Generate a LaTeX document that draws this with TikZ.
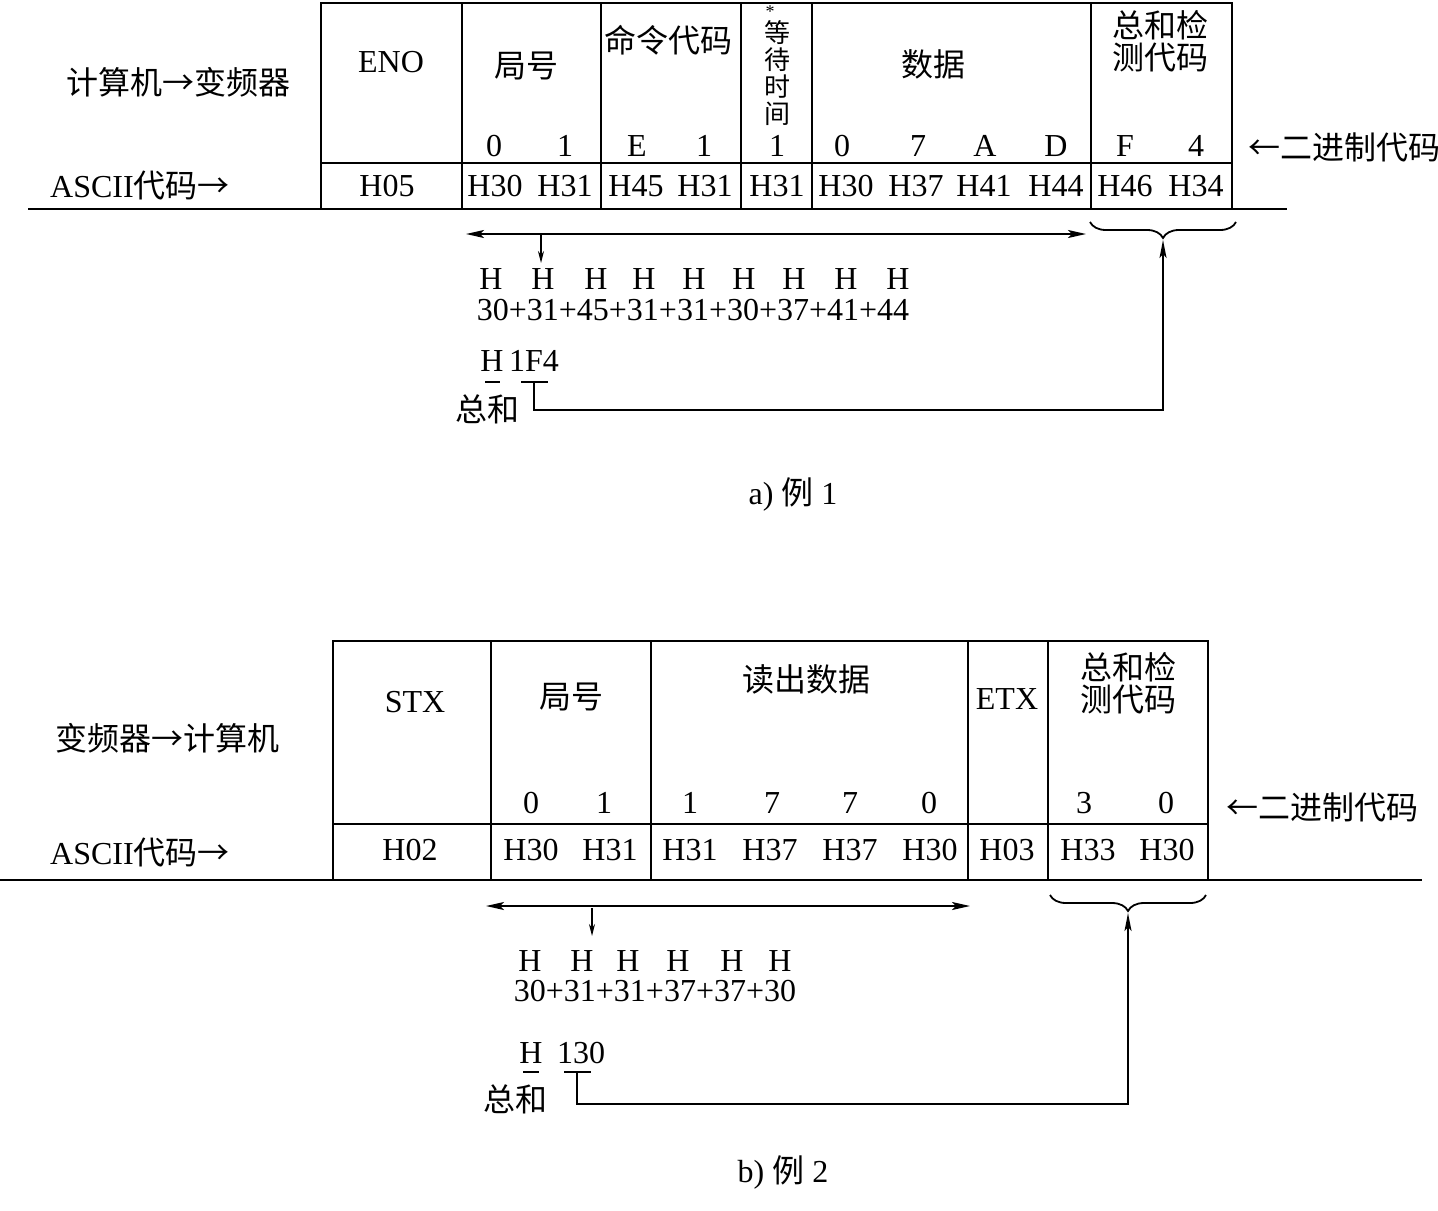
\documentclass[tikz,border=0pt]{standalone}
\usepackage{fontspec}
\setmainfont{Liberation Serif}
\newfontfamily\cjk{Noto Sans CJK SC}
\usetikzlibrary{arrows.meta,decorations.pathreplacing}
\tikzset{
    frame/.style={
    line width=1.4pt
    },
    lbl/.style={
    inner sep=0pt,font=\fontsize{16}{16}\selectfont
    },
    row/.style={
    lbl,anchor=base
    },
    clbl/.style={
    inner sep=0pt,font=\cjk\fontsize{16}{16}\selectfont,align=center
    },
    vlbl/.style={
    inner sep=0pt,font=\cjk\fontsize{13}{13.5}\selectfont,align=center
    },
    conn/.style={
    line width=0.9pt
    },
    span/.style={
    line width=0.9pt,{Stealth[length=9pt,width=4pt,inset=2pt]}-{Stealth[length=9pt,width=4pt,inset=2pt]}
    },
    pick/.style={
    line width=0.8pt,-{Stealth[length=6pt,width=3pt]}
    },
    back/.style={
    line width=0.9pt,-{Stealth[length=9pt,width=3.5pt,inset=2pt]}
    },
    sumbrace/.style={
    line width=0.9pt,decorate,decoration={brace,mirror,amplitude=8pt}
    },
}
\begin{document}
\begin{tikzpicture}[x=5pt,y=-5pt]
   \useasboundingbox (0,0) rectangle (143.8,121);

   %example 1: frame
   \draw[frame] (32.1,0.3) rectangle (123.2,20.9);
   \draw[frame] (32.1,16.3) -- (123.2,16.3);
   \foreach \x in {46.2,60.1,74.1,81.2,109.1}
     \draw[frame] (\x,0.3) -- (\x,20.9);
   \draw[frame] (2.8,20.9) -- (128.7,20.9);

   %example 1: labels
   \node[clbl] (dirA) at (17.8,8.2) {计算机→变频器};
   \node[lbl] (ascA) at (14.0,18.6) {ASCII{\cjk 代码→}};
   \node[clbl] (binA) at (134.4,14.7) {←二进制代码};
   \node[lbl] (eno) at (39.1,6.2) {ENO};
   \node[clbl] (stnA) at (52.6,6.6) {局号};
   \node[clbl] (cmd) at (66.8,4.0) {命令代码};
   \node[lbl,font=\fontsize{9}{9}\selectfont] (star) at (77.0,1.2) {*};
   \node[vlbl] (wait) at (77.7,7.3) {等\\待\\时\\间};
   \node[clbl] (dataA) at (93.3,6.4) {数据};
   \node[clbl] (chkA) at (116.0,4.1) {总和检\\测代码};
   \foreach \x/\t [count=\i] in {49.4/0,56.5/1,63.7/E,70.4/1,77.7/1,84.2/0,91.8/7,98.5/A,105.6/D,112.5/F,119.6/4}
     \node[row] (digA\i) at (\x,15.6) {\t};
   \foreach \x/\t [count=\i] in {38.7/H05,49.5/H30,56.5/H31,63.6/H45,70.5/H31,77.7/H31,84.6/H30,91.6/H37,98.4/H41,105.6/H44,112.5/H46,119.6/H34}
     \node[row] (hexA\i) at (\x,19.6) {\t};

   %example 1: sum
   \coordinate (spanAl) at (46.6,23.4);
   \coordinate (spanAr) at (108.6,23.4);
   \coordinate (pickA) at (54.1,23.5);
   \coordinate (pickAe) at (54.1,26.3);
   \coordinate (braceAl) at (109.0,22.2);
   \coordinate (braceAr) at (123.6,22.2);
   \coordinate (tipA) at (116.3,24.0);
   \foreach \x [count=\i] in {49.1,54.3,59.6,64.4,69.4,74.4,79.4,84.6,89.8}
     \node[row] (hA\i) at (\x,28.9) {H};
   \node[row] (addA) at (69.3,32.0) {30+31+45+31+31+30+37+41+44};
   \node[row] (hsumA) at (49.2,37.1) {H};
   \node[row] (valA) at (53.4,37.1) {1F4};
   \node[clbl] (totA) at (48.7,40.9) {总和};
   \coordinate (ulAl) at (48.5,38.2);
   \coordinate (ulAr) at (50.0,38.2);
   \coordinate (barAl) at (52.1,38.2);
   \coordinate (barAr) at (54.8,38.2);
   \coordinate (barA) at (53.4,38.2);
   \coordinate (turnA) at (53.4,41.0);
   \coordinate (cornA) at (116.3,41.0);
   \draw[span] (spanAl) -- (spanAr);
   \draw[pick] (pickA) -- (pickAe);
   \draw[sumbrace] (braceAl) -- (braceAr);
   \draw[conn] (ulAl) -- (ulAr);
   \draw[conn] (barAl) -- (barAr);
   \draw[back] (barA) -- (turnA) -- (cornA) -- (tipA);
   \node[lbl] (capA) at (79.3,49.4) {a) {\cjk 例} 1};

   %example 2: frame
   \draw[frame] (33.3,64.1) rectangle (120.8,88.0);
   \draw[frame] (33.3,82.4) -- (120.8,82.4);
   \foreach \x in {49.1,65.1,96.8,104.8}
     \draw[frame] (\x,64.1) -- (\x,88.0);
   \draw[frame] (0,88.0) -- (142.2,88.0);

   %example 2: labels
   \node[clbl] (dirB) at (16.7,73.8) {变频器→计算机};
   \node[lbl] (ascB) at (14.0,85.3) {ASCII{\cjk 代码→}};
   \node[clbl] (binB) at (132.2,80.7) {←二进制代码};
   \node[lbl] (stx) at (41.5,70.2) {STX};
   \node[clbl] (stnB) at (57.1,69.7) {局号};
   \node[clbl] (dataB) at (80.6,67.9) {读出数据};
   \node[lbl] (etx) at (100.7,69.9) {ETX};
   \node[clbl] (chkB) at (112.8,68.3) {总和检\\测代码};
   \foreach \x/\t [count=\i] in {53.1/0,60.4/1,69.0/1,77.2/7,85.0/7,92.9/0,108.4/3,116.6/0}
     \node[row] (digB\i) at (\x,81.3) {\t};
   \foreach \x/\t [count=\i] in {41.0/H02,53.1/H30,61.0/H31,69.0/H31,77.0/H37,85.0/H37,93.0/H30,100.7/H03,108.8/H33,116.7/H30}
     \node[row] (hexB\i) at (\x,86.0) {\t};

   %example 2: sum
   \coordinate (spanBl) at (48.6,90.6);
   \coordinate (spanBr) at (97.0,90.6);
   \coordinate (pickB) at (59.2,90.8);
   \coordinate (pickBe) at (59.2,93.6);
   \coordinate (braceBl) at (105.0,89.5);
   \coordinate (braceBr) at (120.6,89.5);
   \coordinate (tipB) at (112.8,91.3);
   \foreach \x [count=\i] in {53.0,58.2,62.8,67.8,73.2,78.0}
     \node[row] (hB\i) at (\x,97.1) {H};
   \node[row] (addB) at (65.5,100.1) {30+31+31+37+37+30};
   \node[row] (hsumB) at (53.1,106.3) {H};
   \node[row] (valB) at (58.1,106.3) {130};
   \node[clbl] (totB) at (51.5,109.9) {总和};
   \coordinate (ulBl) at (52.3,107.2);
   \coordinate (ulBr) at (53.9,107.2);
   \coordinate (barBl) at (56.4,107.2);
   \coordinate (barBr) at (59.1,107.2);
   \coordinate (barB) at (57.7,107.2);
   \coordinate (turnB) at (57.7,110.4);
   \coordinate (cornB) at (112.8,110.4);
   \draw[span] (spanBl) -- (spanBr);
   \draw[pick] (pickB) -- (pickBe);
   \draw[sumbrace] (braceBl) -- (braceBr);
   \draw[conn] (ulBl) -- (ulBr);
   \draw[conn] (barBl) -- (barBr);
   \draw[back] (barB) -- (turnB) -- (cornB) -- (tipB);
   \node[lbl] (capB) at (78.3,117.2) {b) {\cjk 例} 2};
\end{tikzpicture}
\end{document}
